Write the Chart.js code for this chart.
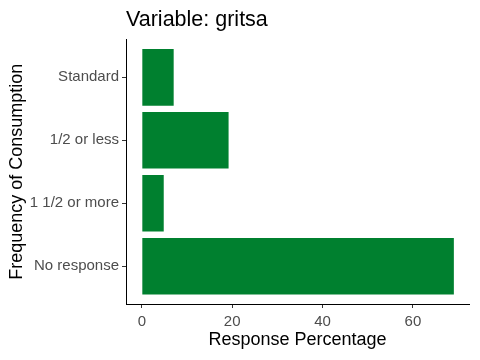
<!DOCTYPE html>
<html>
<head>
<meta charset="utf-8">
<script src="https://cdn.jsdelivr.net/npm/chart.js@4/dist/chart.umd.min.js"></script>
<style>
  html, body { margin: 0; padding: 0; background: #fff; }
  #wrap { width: 480px; height: 360px; }
</style>
</head>
<body>
<div id="wrap"><canvas id="myChart" width="480" height="360"></canvas></div>
<script>
/* globals Chart:false */

// categories from top to bottom
var categories = ['Standard', '1/2 or less', '1 1/2 or more', 'No response'];
var percentages = [7.05, 19.2, 4.85, 69.05];
var xTicks = [0, 20, 40, 60];

(function displayChart() {
  'use strict'

  var ctx = document.getElementById('myChart')
  var font = 'Liberation Sans, Arial, sans-serif'

  // bars sit at 0..n-1 on a linear index axis so the ggplot 0.6 padding can be kept
  var points = percentages.map(function (v, i) {
    return { x: v, y: i }
  })

  // eslint-disable-next-line no-unused-vars
  var myChart = new Chart(ctx, {
    type: 'bar',
    data: {
      datasets: [{
        data: points,
        backgroundColor: '#00802F',
        borderWidth: 0,
        categoryPercentage: 1,
        barPercentage: 0.9
      }]
    },
    options: {
      indexAxis: 'y',
      responsive: false,
      animation: false,
      layout: { padding: { top: 0, right: 11, bottom: 9, left: 6 } },
      plugins: {
        legend: { display: false },
        tooltip: { enabled: false },
        title: {
          display: true,
          text: 'Variable: gritsa',
          align: 'start',
          fullSize: false,
          color: '#000',
          font: { family: font, size: 21.5, weight: 'normal', lineHeight: 1.2 },
          padding: { top: 7.5, bottom: 6.2 }
        }
      },
      scales: {
        x: {
          type: 'linear',
          min: -3.5,
          max: 72.4,
          afterBuildTicks: function (scale) {
            scale.ticks = xTicks.map(function (v) { return { value: v } })
          },
          afterFit: function (scale) { scale.height = 47 },
          grid: {
            display: true,
            drawOnChartArea: false,
            drawTicks: true,
            tickLength: 4,
            tickColor: '#333'
          },
          border: { display: true, color: '#000', width: 1 },
          ticks: {
            color: '#4D4D4D',
            padding: 5,
            font: { family: font, size: 15 }
          },
          title: {
            display: true,
            text: 'Response Percentage',
            color: '#000',
            padding: { top: 2, bottom: 0 },
            font: { family: font, size: 18 }
          }
        },
        y: {
          type: 'linear',
          reverse: true,
          offset: false,
          min: -0.6,
          max: categories.length - 0.4,
          afterBuildTicks: function (scale) {
            scale.ticks = categories.map(function (c, i) { return { value: i } })
          },
          afterFit: function (scale) { scale.width = 120 },
          grid: {
            display: true,
            offset: false,
            drawOnChartArea: false,
            drawTicks: true,
            tickLength: 4,
            tickColor: '#333'
          },
          border: { display: true, color: '#000', width: 1 },
          ticks: {
            color: '#4D4D4D',
            padding: 3,
            font: { family: font, size: 15 },
            callback: function (value) { return categories[value] }
          },
          title: {
            display: true,
            text: 'Frequency of Consumption',
            color: '#000',
            padding: { top: 0, bottom: 2 },
            font: { family: font, size: 18 }
          }
        }
      }
    }
  })
}())
</script>
</body>
</html>
